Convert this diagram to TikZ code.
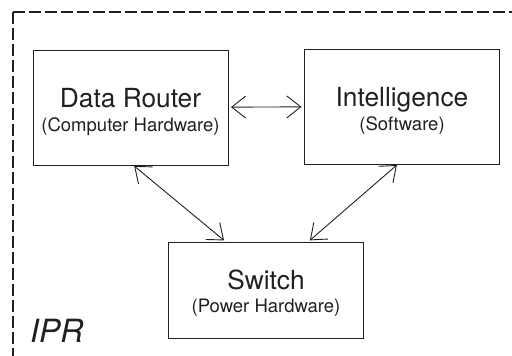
\documentclass[tikz,border=0pt]{standalone}
\usepackage{fontspec}
\setmainfont{TeX Gyre Heros}
\usetikzlibrary{arrows.meta}
\definecolor{ink}{HTML}{231F20}
\begin{document}
\begin{tikzpicture}[x=1pt,y=-1pt,
 every node/.style={text=ink},
 box/.style={draw=ink, line width=1pt, minimum width=195pt, minimum height=115pt, inner sep=0pt, outer sep=0pt},
 title/.style={anchor=base, font=\fontsize{26.3}{29}\selectfont, inner sep=0pt},
 sub/.style={anchor=base, font=\fontsize{18.5}{20}\selectfont, inner sep=0pt},
 link/.style={draw=ink, line width=0.9pt, {Straight Barb[length=14pt,width=22pt]}-{Straight Barb[length=14pt,width=22pt]}},
 border/.style={draw=ink, line width=2.3pt, dash pattern=on 11.5pt off 4.5pt}]
\useasboundingbox (0,0) rectangle (512,356);
\begin{scope}
\clip (0,0) rectangle (512,356);
\coordinate (corner) at (13,12);
\coordinate (cbot) at (13,380);
\coordinate (cright) at (530,12);
\draw[border] (corner) -- (cbot);
\draw[border] (corner) -- (cright);
\end{scope}
\node[box] (dr) at (130.5,107.5) {};
\node[title] (drt) at (dr.center) {Data Router};
\node[sub] (drs) at ([yshift=-24pt]dr.center) {(Computer Hardware)};
\node[box] (int) at (402,106.5) {};
\node[title] (intt) at (int.center) {Intelligence};
\node[sub] (ints) at ([yshift=-24pt]int.center) {(Software)};
\node[box, minimum height=96pt] (sw) at (266,290) {};
\node[title] (swt) at ([yshift=1pt]sw.center) {Switch};
\node[sub] (sws) at ([yshift=-22pt]sw.center) {(Power Hardware)};
\node[anchor=base west, inner sep=0pt, font=\fontsize{32}{35}\selectfont\itshape] (ipr) at (30,342) {IPR};
\draw[link, shorten <=3pt, shorten >=3pt] (dr) -- (int);
\draw[link, shorten <=1.5pt, shorten >=2.5pt] ([xshift=2.5pt]dr.south) -- ([xshift=-40pt]sw.north);
\draw[link, shorten <=1.5pt, shorten >=2.5pt] ([xshift=-4pt]int.south) -- ([xshift=42pt]sw.north);
\end{tikzpicture}
\end{document}
